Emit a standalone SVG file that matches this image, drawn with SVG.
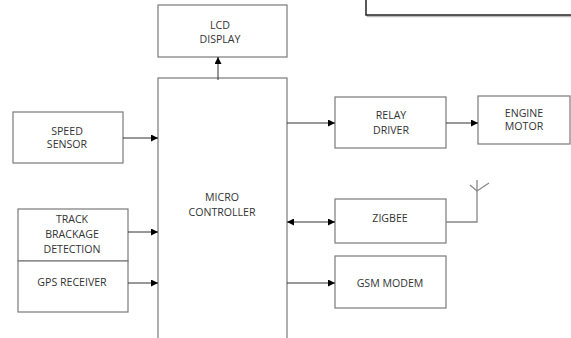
<svg xmlns="http://www.w3.org/2000/svg" width="571" height="338" viewBox="0 0 571 338">
<defs>
<style>
.box{fill:#fff;stroke:#7a7a7a;stroke-width:1.2}
.t{font-family:"Open Sans","Noto Sans",sans-serif;font-size:10.6px;fill:#333;text-anchor:middle}
.c{stroke:#333;stroke-width:1;fill:none}
.ant{stroke:#888;stroke-width:1.3;fill:none}
</style>
<marker id="ah" viewBox="0 0 10 10" refX="10" refY="5" markerWidth="7" markerHeight="7" markerUnits="userSpaceOnUse" orient="auto-start-reverse">
<path d="M0,0 L10,5 L0,10 z" fill="#000"/>
</marker>
</defs>
<rect width="571" height="338" fill="#fff"/>
<g id="topbox">
<rect x="367.5" y="-10" width="215" height="26.5" fill="none" stroke="#bbb" stroke-width="1.5"/>
<rect x="366" y="-10" width="215" height="25" fill="#fff" stroke="#222" stroke-width="1.5"/>
</g>
<g id="lcd">
<rect class="box" x="158" y="5" width="129" height="52"/>
<text class="t" x="220" y="29">LCD</text>
<text class="t" x="220" y="43">DISPLAY</text>
</g>
<g id="micro">
<rect class="box" x="158" y="78" width="129" height="270"/>
<text class="t" x="222" y="201">MICRO</text>
<text class="t" x="222" y="216">CONTROLLER</text>
</g>
<g id="speed">
<rect class="box" x="13" y="112" width="110" height="51"/>
<text class="t" x="67" y="135">SPEED</text>
<text class="t" x="67" y="148">SENSOR</text>
</g>
<g id="track">
<rect class="box" x="18" y="209" width="110" height="52"/>
<text class="t" x="72" y="223">TRACK</text>
<text class="t" x="72" y="238">BRACKAGE</text>
<text class="t" x="72" y="253">DETECTION</text>
</g>
<g id="gps">
<rect class="box" x="18" y="261" width="110" height="51"/>
<text class="t" x="72" y="286">GPS RECEIVER</text>
</g>
<g id="relay">
<rect class="box" x="335" y="97" width="111" height="51"/>
<text class="t" x="391" y="119">RELAY</text>
<text class="t" x="391" y="134">DRIVER</text>
</g>
<g id="engine">
<rect class="box" x="478" y="96" width="92" height="48"/>
<text class="t" x="524" y="117">ENGINE</text>
<text class="t" x="524" y="130">MOTOR</text>
</g>
<g id="zigbee">
<rect class="box" x="335" y="199" width="111" height="44"/>
<text class="t" x="390" y="222">ZIGBEE</text>
</g>
<g id="gsm">
<rect class="box" x="335" y="256" width="111" height="52"/>
<text class="t" x="390" y="287">GSM MODEM</text>
</g>
<g id="antenna">
<polyline class="ant" points="446,222 477,222 477,180"/>
<polyline class="ant" points="470,185 477,191 489,183"/>
</g>
<g id="connectors">
<line class="c" x1="218" y1="80" x2="218" y2="57" marker-end="url(#ah)"/>
<line class="c" x1="123" y1="138" x2="158" y2="138" marker-end="url(#ah)"/>
<line class="c" x1="128" y1="232" x2="158" y2="232" marker-end="url(#ah)"/>
<line class="c" x1="128" y1="283" x2="158" y2="283" marker-end="url(#ah)"/>
<line class="c" x1="287" y1="123" x2="335" y2="123" marker-end="url(#ah)"/>
<line class="c" x1="446" y1="123" x2="478" y2="123" marker-end="url(#ah)"/>
<line class="c" x1="287" y1="222" x2="335" y2="222" marker-start="url(#ah)" marker-end="url(#ah)"/>
<line class="c" x1="287" y1="283" x2="335" y2="283" marker-end="url(#ah)"/>
</g>
</svg>
